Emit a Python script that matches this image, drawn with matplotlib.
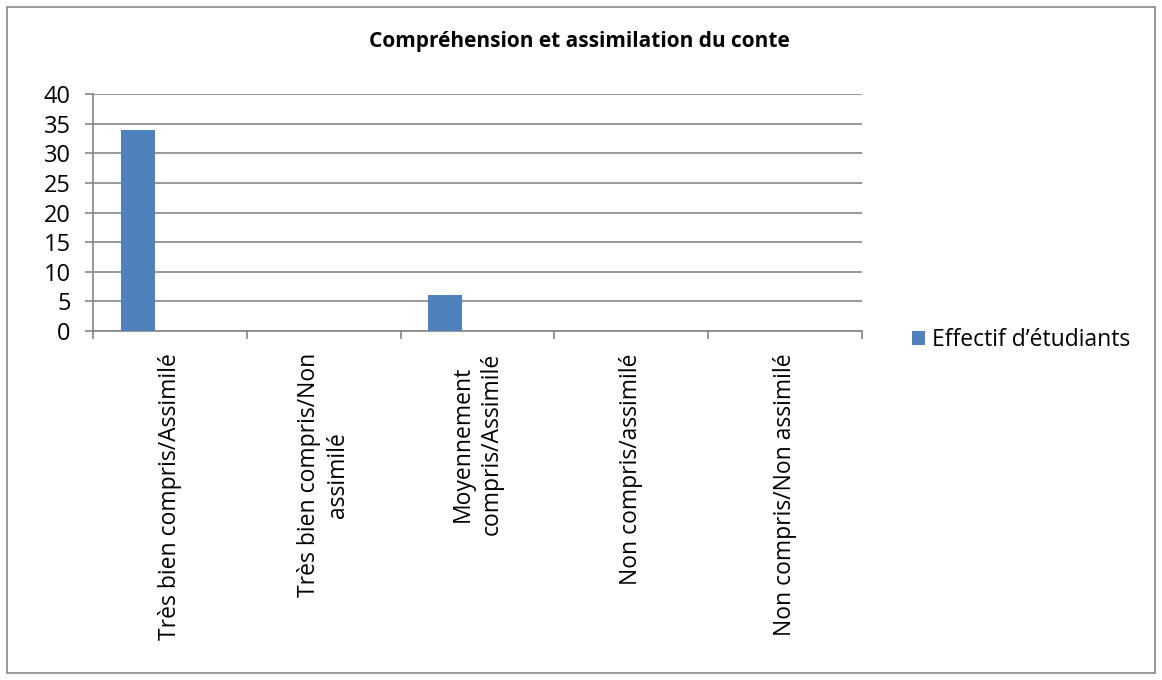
import numpy as np
import matplotlib
matplotlib.use("Agg")
import matplotlib.pyplot as plt
from matplotlib.patches import Rectangle

categories = ["Très bien compris/Assimilé",
              "Très bien compris/Non\nassimilé",
              "Moyennement\ncompris/Assimilé",
              "Non compris/assimilé",
              "Non compris/Non assimilé"]
effectif = [34, 0, 6, 0, 0]
series_name = "Effectif d\u2019étudiants"
title = "Compréhension et assimilation du conte"

plt.rcParams['font.family'] = ['Open Sans', 'DejaVu Sans']
grey = '#868686'
blue = '#4f81bd'

fig = plt.figure(figsize=(11.62, 6.8), dpi=100)
ax = fig.add_axes([93/1162, 1 - 331/680, (862-93)/1162, (331-94)/680])

x = np.arange(len(categories))
ax.bar(x - 0.21, effectif, width=0.22, color=blue, label=series_name, zorder=3)

ax.set_xlim(-0.5, len(categories) - 0.5)
ax.set_ylim(0, 40)
ax.set_yticks(range(0, 41, 5))
ax.yaxis.grid(True, color=grey, linewidth=1.2, zorder=0)
ax.set_xticks(np.arange(-0.5, len(categories)), minor=False)
ax.set_xticklabels([])
ax.tick_params(axis='x', length=6, color=grey, width=1.2)
ax.tick_params(axis='y', length=6, color=grey, width=1.2, labelsize=17, pad=10)
for s in ['top', 'right']:
    ax.spines[s].set_visible(False)
for s in ['left', 'bottom']:
    ax.spines[s].set_color(grey)
    ax.spines[s].set_linewidth(1.2)

# category labels, rotated like the excel export
for i, lab in enumerate(categories):
    ax.annotate(lab, xy=(i, 0), xycoords='data', xytext=(0, -16), textcoords='offset points',
                rotation=90, ha='center', va='top', multialignment='center', fontsize=16.5,
                linespacing=1.25)

fig.text(0.499, 1 - 41/680, title, ha='center', va='center', fontsize=15, fontweight='bold')

leg = fig.legend(loc='center left', bbox_to_anchor=(903/1162, 1 - 340/680), frameon=False,
                 fontsize=16.5, handlelength=0.55, handleheight=0.55, handletextpad=0.3,
                 borderaxespad=0)

fig.patches.append(Rectangle((7/1162, 7/680), 1148/1162, 666/680, transform=fig.transFigure,
                             fill=False, edgecolor=grey, linewidth=1.2))

fig.savefig("out.png", dpi=100)
